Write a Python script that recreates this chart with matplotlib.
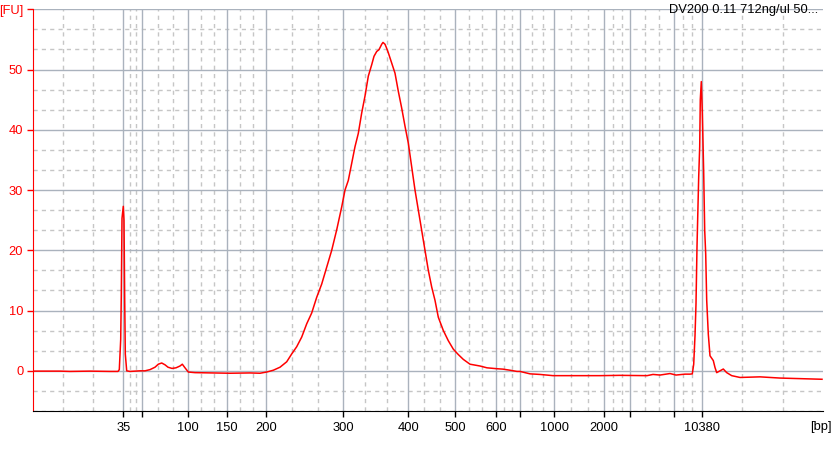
import numpy as np
import matplotlib
matplotlib.use("Agg")
import matplotlib.pyplot as plt

plt.rcParams["font.family"] = ["Liberation Sans", "DejaVu Sans"]

# ---- data (migration position units, fluorescence units) ----
time = [33, 60, 70, 90, 110, 118, 119.3, 120.7, 121.3, 122, 123.3, 124, 124.7, 125.3, 126.7,
        130, 140, 145, 150, 155, 158.3, 161.7, 165, 168, 172, 176, 180, 182.3, 185, 188.3,
        195, 210, 230, 250, 260, 266.7, 273.3, 280, 286.7, 291.7, 296.7, 301.7, 306.7, 311.7,
        316.7, 321.7, 326.7, 331.7, 336.7, 341.7, 345, 348.3, 351.7, 355, 358.3, 361.7, 365,
        368.3, 371.7, 374, 376.7, 379, 381.7, 383, 385, 386.5, 388.3, 391.7, 395, 398.3, 401.7,
        405, 408.3, 411.7, 415, 418.3, 421.7, 425, 428.3, 431.7, 435, 438.3, 443.3, 448.3,
        453.3, 458.3, 463.3, 470, 480, 487, 497, 503, 510, 517, 520, 525, 530, 540, 553, 570,
        600, 620, 647, 653, 660, 670, 676, 685, 690, 692.3, 693.7, 695, 696, 697, 698.7, 699.7,
        700.3, 701.3, 702.3, 703.7, 704.7, 705.7, 706.7, 708.3, 710, 713.3, 715, 716.7, 720,
        723.3, 726.7, 731.7, 740, 760, 780, 800, 822]
fu = [-0.05, -0.05, -0.1, -0.05, -0.1, -0.1, 0.2, 5.2, 12.5, 25.3, 27.3, 25.0, 11.7, 2.8, 0.0,
      -0.1, 0.0, 0.0, 0.2, 0.6, 1.1, 1.3, 1.0, 0.6, 0.4, 0.5, 0.8, 1.1, 0.5, -0.2,
      -0.3, -0.35, -0.4, -0.35, -0.4, -0.2, 0.1, 0.6, 1.5, 2.8, 4.0, 5.6, 7.8, 9.6,
      12.2, 14.4, 17.2, 20.0, 23.4, 27.2, 30.0, 31.6, 34.4, 37.2, 39.4, 42.8, 45.6,
      48.9, 50.8, 52.2, 53.0, 53.3, 54.2, 54.5, 54.2, 53.6, 52.8, 51.1, 49.4, 46.4, 43.6,
      40.6, 37.8, 33.9, 30.0, 26.7, 23.3, 20.0, 16.7, 13.9, 11.7, 8.9, 6.7, 5.0,
      3.6, 2.7, 1.9, 1.1, 0.8, 0.5, 0.35, 0.28, 0.1, -0.1, -0.1, -0.3, -0.5, -0.6, -0.8, -0.8,
      -0.8, -0.75, -0.8, -0.6, -0.7, -0.45, -0.7, -0.55, -0.55, -0.5, 1.1, 5.8, 11.1, 20.6, 32.2, 37.2,
      45.0, 48.0, 43.0, 32.8, 23.3, 19.4, 11.7, 6.1, 2.5, 1.7, 0.55, -0.3, 0.0,
      0.3, -0.3, -0.8, -1.1, -1.0, -1.2, -1.3, -1.4]

x_tick_pos = [123.3, 142.3, 188.3, 227.3, 266.3, 343.3, 408.3, 455.3, 495.7, 520.3,
              554.3, 604.3, 630.3, 673.7, 701.7]
x_tick_labels = ["35", "", "100", "150", "200", "300", "400", "500", "600", "",
                 "1000", "2000", "", "", "10380"]
y_tick_pos = [0, 10, 20, 30, 40, 50, 60]
y_tick_labels = ["0", "10", "20", "30", "40", "50", "[FU]"]
x_range = (33, 823)
y_range = (-20 / 3, 60)
header = "DV200 0.11 712ng/ul 50..."

W, H = 840, 451
fig = plt.figure(figsize=(W / 100, H / 100), dpi=100)
ax = fig.add_axes([33 / W, (H - 411) / H, 790 / W, (411 - 9.3) / H])

major_c = "#aab2bd"
minor_c = "#c6c6c6"

# minor grid positions at thirds between majors (including axis edges)
xb = [x_range[0]] + x_tick_pos + [x_range[1]]
x_minor = []
for a, b in zip(xb[:-1], xb[1:]):
    x_minor += [a + (b - a) / 3, a + 2 * (b - a) / 3]
y_minor = [v for v in np.arange(-20, 181, 10) / 3 if abs(v - round(v / 10) * 10) > 0.1]

for v in x_minor:
    ax.axvline(v, color=minor_c, lw=1, ls=(0, (3, 3)), zorder=1)
for v in y_minor:
    ax.axhline(v, color=minor_c, lw=1, ls=(0, (3, 3)), zorder=1)
for v in x_tick_pos:
    ax.axvline(v, color=major_c, lw=1, zorder=1.5)
for v in y_tick_pos:
    ax.axhline(v, color=major_c, lw=1, zorder=1.5)

ax.plot(time, fu, color="#ff0000", lw=1.1, zorder=3)

fs = 9.3
ax.set_xlim(*x_range)
ax.set_ylim(*y_range)
ax.set_xticks(x_tick_pos)
ax.set_xticklabels(x_tick_labels, fontsize=fs)
ax.set_yticks(y_tick_pos)
ax.set_yticklabels(y_tick_labels, fontsize=fs, color="#ff0000")
ax.tick_params(axis="x", length=4, width=1, color="black", pad=4)
ax.tick_params(axis="y", length=4, width=1, color="#ff0000", pad=3)
for s in ["top", "right"]:
    ax.spines[s].set_visible(False)
ax.spines["left"].set_color("#ff0000")
ax.spines["bottom"].set_color("black")

fig.text(818 / W, 1 - 13.5 / H, header, ha="right", va="baseline", fontsize=fs, color="black")
fig.text(810 / W, 1 - 427 / H, "[bp]", ha="left", va="center", fontsize=fs, color="black")

fig.savefig("out.png", dpi=100)
